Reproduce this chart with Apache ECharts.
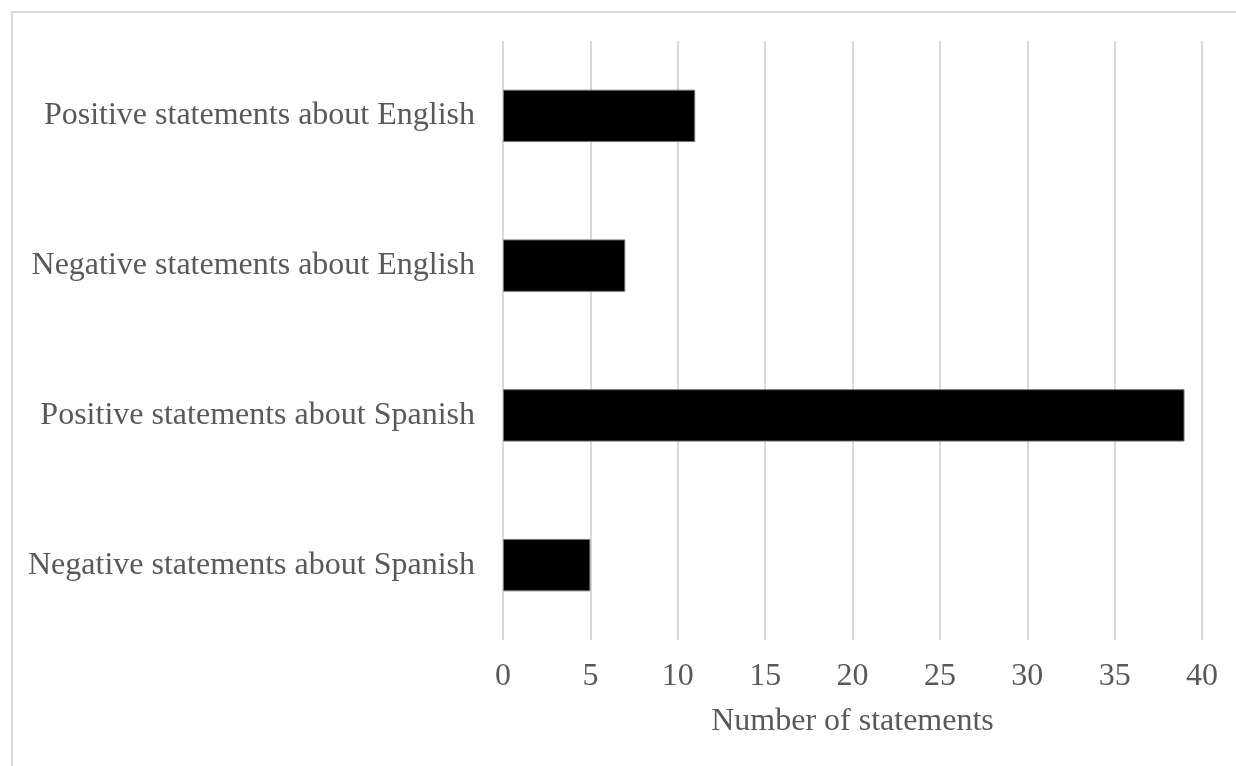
<!DOCTYPE html>
<html>
<head>
<meta charset="utf-8">
<script src="https://cdn.jsdelivr.net/npm/echarts@6/dist/echarts.min.js"></script>
<style>
  html, body { margin: 0; padding: 0; background: #fff; }
  #main { width: 1236px; height: 766px; }
</style>
</head>
<body>
<div id="main"></div>
<script>
// categories, bottom to top as ECharts draws them
var categories = [
    'Negative statements about Spanish',
    'Positive statements about Spanish',
    'Negative statements about English',
    'Positive statements about English'
];
var counts = [5, 39, 7, 11];
var xTicks = [0, 5, 10, 15, 20, 25, 30, 35, 40];

var chart = echarts.init(document.getElementById('main'));
var font = '"Liberation Serif", "Times New Roman", serif';

var option = {
    backgroundColor: '#fff',
    animation: false,
    textStyle: { fontFamily: font },
    graphic: [{
        type: 'rect',
        shape: { x: 12, y: 12, width: 1300, height: 800 },
        style: { fill: 'none', stroke: '#d9d9d9', lineWidth: 2 },
        silent: true
    }],
    grid: {
        left: 503,
        right: 34,
        top: 41,
        bottom: 126
    },
    xAxis: {
        type: 'value',
        min: xTicks[0],
        max: xTicks[xTicks.length - 1],
        interval: 5,
        name: 'Number of statements',
        nameLocation: 'middle',
        nameGap: 66,
        nameTextStyle: { color: '#595959', fontSize: 32, fontFamily: font },
        axisLine: { show: false },
        axisTick: { show: false },
        axisLabel: { color: '#595959', fontSize: 32, margin: 21, fontFamily: font },
        splitLine: { show: true, lineStyle: { color: '#d9d9d9', width: 2 } }
    },
    yAxis: {
        type: 'category',
        data: categories,
        axisLine: { show: false },
        axisTick: { show: false },
        axisLabel: { color: '#595959', fontSize: 32, margin: 28, fontFamily: font },
        splitLine: { show: false }
    },
    series: [{
        type: 'bar',
        data: counts,
        barCategoryGap: '65%',
        itemStyle: { color: '#000', borderColor: '#777', borderWidth: 1 }
    }]
};

chart.setOption(option);
</script>
</body>
</html>
